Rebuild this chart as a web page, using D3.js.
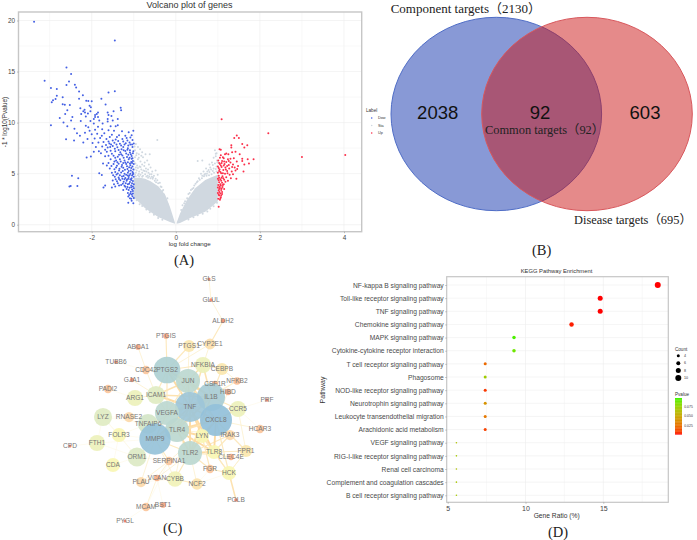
<!DOCTYPE html>
<html>
<head>
<meta charset="utf-8">
<script src="https://cdn.jsdelivr.net/npm/d3@7"></script>
<style>
body { margin: 0; background: #fff; }
svg { display: block; }
text { font-family: "Liberation Sans", Arial, sans-serif; }
.serif { font-family: "Liberation Serif", "Noto Sans CJK SC", serif; fill: #222; }
</style>
</head>
<body>
<div id="chart"></div>
<script>
// (A) volcano: significant genes, [log fold change, -log10 p]
const downGenes = [
[-3.37,19.87],[-1.45,18.04],[-2.6,15.4],[-2.49,14.77],[-3.12,14.09],[-2.54,14.02],[-2.4,13.7],[-2.6,13.68],[-2.37,13.43],[-2.97,13.4],
[-2.83,13.3],[-2.3,13.04],[-1.45,13.07],[-1.6,12.95],[-2.21,12.69],[-2.83,12.62],[-2.69,12.49],[-2.86,12.3],[-2.92,12.2],[-2.3,12.33],
[-1.77,12.33],[-2.13,12.13],[-2.08,12.11],[-2.95,12],[-2,12.08],[-2.69,11.8],[-2.64,11.75],[-2.52,11.72],[-1.67,11.77],[-2.05,11.65],
[-2.02,11.5],[-1.31,11.45],[-2.27,11.4],[-1.3,11.2],[-2.58,11.2],[-2.17,11.25],[-2.2,11.1],[-1.48,11.1],[-2.03,11.1],[-2.63,10.85],
[-2.16,11],[-1.62,11],[-1.85,11],[-2.09,10.9],[-2.25,10.85],[-1.88,10.85],[-1.92,10.75],[-1.6,10.75],[-1.53,10.65],[-2.14,10.6],
[-1.92,10.55],[-1.85,10.55],[-2.76,10.45],[-2.46,10.55],[-1.95,10.35],[-1.62,10.35],[-1.38,10.35],[-1.5,10.2],[-1.82,10.2],[-2.67,10],
[-2.49,10.2],[-2.26,10.15],[-2.03,10.15],[-1.62,10.1],[-1.95,9.9],[-1.74,9.9],[-2.97,9.75],[-2.58,9.65],[-2.14,9.7],[-2.08,9.55],
[-1.85,9.6],[-1.55,9.65],[-1.43,9.65],[-1.38,9.75],[-2.41,9.4],[-1.01,9.2],[-2.61,8.37],[-2.42,8.24],[-2.28,8.7],[-2.16,9],
[-2.35,8.95],[-2.05,9.2],[-1.92,9.3],[-1.75,9.35],[-1.6,9.25],[-1.47,9.2],[-1.28,9.15],[-1.12,9.05],[-2.0,8.85],[-1.87,8.9],
[-1.7,8.95],[-1.52,8.8],[-1.35,8.75],[-1.2,8.7],[-1.08,8.55],[-2.1,8.4],[-1.93,8.45],[-1.8,8.5],[-1.65,8.4],[-1.43,8.35],
[-1.27,8.4],[-1.15,8.25],[-1.03,8.3],[-2.2,8.05],[-1.98,8],[-1.84,8.05],[-1.72,8.1],[-1.58,7.95],[-1.46,8.02],[-1.33,7.92],
[-1.19,7.98],[-1.08,7.85],[-1.0,7.95],[-1.9,7.6],[-1.75,7.65],[-1.62,7.55],[-1.5,7.7],[-1.39,7.58],[-1.25,7.62],[-1.14,7.5],
[-1.03,7.6],[-1.95,7.15],[-1.83,7.2],[-1.78,7],[-1.64,7.15],[-1.55,7.25],[-1.44,7.2],[-1.32,7.1],[-1.2,7.22],[-1.09,7.08],
[-1.01,7.2],[-2.12,6.57],[-2.02,6.67],[-1.68,6.7],[-1.48,6.75],[-1.38,6.65],[-1.27,6.78],[-1.16,6.62],[-1.05,6.72],[-1.55,6.4],
[-1.42,6.3],[-1.33,6.42],[-1.22,6.28],[-1.12,6.4],[-1.02,6.25],[-1.73,6],[-1.48,5.95],[-1.36,5.98],[-1.28,5.85],[-1.18,5.95],
[-1.08,5.82],[-1.0,5.95],[-1.57,5.5],[-1.42,5.6],[-1.34,5.48],[-1.25,5.58],[-1.15,5.45],[-1.06,5.55],[-1.01,5.4],[-1.82,5.04],
[-1.76,4.87],[-1.52,5.1],[-1.44,5.15],[-1.38,5.02],[-1.3,5.12],[-1.22,5],[-1.14,5.1],[-1.08,4.98],[-1.01,5.05],[-2.47,4.8],
[-2.32,4.55],[-1.45,4.7],[-1.36,4.62],[-1.28,4.72],[-1.2,4.58],[-1.12,4.68],[-1.05,4.55],[-1.0,4.7],[-1.5,4.32],[-1.4,4.25],
[-1.32,4.35],[-1.24,4.2],[-1.17,4.3],[-1.09,4.18],[-1.02,4.28],[-2.5,3.79],[-2.53,3.75],[-2.34,3.8],[-1.72,3.64],[-1.68,3.85],
[-1.52,3.64],[-1.44,3.73],[-1.38,4.05],[-1.3,3.9],[-1.22,3.82],[-1.14,3.95],[-1.06,3.85],[-1.0,3.95],[-1.25,3.4],[-1.17,3.5],
[-1.1,3.62],[-1.04,3.45],[-1.0,3.58],[-1.14,3.1],[-1.07,3.22],[-1.02,3.05],[-1.13,2.75],[-1.09,2.6],[-1.03,2.78],[-1.0,2.62],
[-1.13,2.16],[-1.05,2.35],[-1.01,2.1],[-1.02,4.95],[-1.04,6.05],[-1.1,4.85],[-1.16,4.42],[-1.26,5.25],[-1.35,5.3],[-1.2,6.1],
[-1.1,6.55],[-1.3,6.9],[-1.05,6.45],[-1.15,7.35],[-1.24,7.3],[-1.02,3.3],[-1.08,4.45],[-1.03,5.7],[-1.12,5.25],[-1.19,4.05],
[-1.03,5.15],[-1.07,5.3],[-1.11,5.62],[-1.16,5.72],[-1.21,5.38],[-1.29,5.68],[-1.4,5.78],[-1.46,5.42],[-1.53,5.75],[-1.04,4.82],
[-1.14,4.82],[-1.18,4.9],[-1.24,4.78],[-1.33,4.85],[-1.41,4.92],[-1.49,4.85],[-1.06,4.38],[-1.13,4.5],[-1.22,4.45],[-1.27,4.5],
[-1.35,4.48],[-1.43,4.45],[-1.04,4.05],[-1.11,4.02],[-1.2,3.72],[-1.26,4.0],[-1.35,3.85],[-1.47,3.95],[-1.06,3.68],[-1.12,3.4],
[-1.02,3.75],[-1.15,3.7],[-1.08,3.05],[-1.05,2.95],[-1.11,2.9],[-1.06,2.55],[-1.03,6.5],[-1.06,6.15],[-1.09,6.0],[-1.14,6.12],
[-1.25,6.05],[-1.31,6.18],[-1.39,6.12],[-1.46,6.2],[-1.6,6.05],[-1.64,5.8],[-1.07,6.9],[-1.13,6.85],[-1.18,6.98],[-1.24,6.55],
[-1.35,6.85],[-1.44,6.55],[-1.52,6.95],[-1.6,6.75],[-1.02,7.0],[-1.09,7.3],[-1.29,7.4],[-1.36,7.32],[-1.45,7.45],[-1.56,7.6],
[-1.68,7.35],[-1.04,7.85],[-1.13,7.75],[-1.22,7.85],[-1.3,7.75],[-1.41,7.85],[-1.54,7.85],[-1.66,7.8],[-1.1,8.05],[-1.25,8.15],
[-1.37,8.2],[-1.5,8.25],[-1.6,8.15],[-1.05,8.75],[-1.17,8.5],[-1.4,8.6],[-1.57,8.6],[-1.76,8.7]
];
const upGenes = [
[1.09,10.33],[2.2,8.96],[3.0,6.64],[4.03,6.83],[1.45,8.73],[1.39,8.5],[1.5,8.5],[1.58,7.9],[1.7,7.78],[1.32,7.78],
[1.32,7.55],[1.63,7.55],[1.04,7.4],[1.07,7.33],[1.52,6.89],[1.42,7.15],[1.2,6.97],[1.17,6.9],[1.07,6.8],[1.71,6.4],
[1.85,6.4],[1.58,6.45],[1.58,6.25],[1.74,6],[1.63,5.9],[1.61,5.2],[1.44,4.5],[1.02,1.76],[1.38,6.5],[1.3,6.45],
[1.24,6.4],[1.14,6.5],[1.05,6.55],[1.01,6.3],[1.1,6.25],[1.2,6.15],[1.3,6.1],[1.45,6.2],[1.36,5.9],[1.26,5.85],
[1.16,5.95],[1.05,5.95],[1.0,5.7],[1.09,5.65],[1.18,5.6],[1.27,5.5],[1.4,5.6],[1.48,5.75],[1.04,5.4],[1.13,5.35],
[1.22,5.25],[1.33,5.2],[1.42,5.3],[1.0,5.1],[1.08,5.05],[1.17,5],[1.28,4.9],[1.36,4.95],[1.02,4.8],[1.11,4.75],
[1.2,4.65],[1.31,4.55],[1.0,4.5],[1.06,4.45],[1.15,4.4],[1.24,4.3],[1.03,4.15],[1.1,4.1],[1.18,4.2],[1.01,3.9],
[1.07,3.85],[1.14,3.95],[1.0,3.65],[1.05,3.6],[1.11,3.7],[1.02,3.35],[1.08,3.4],[1.15,3.5],[1.0,3.1],[1.06,3.05],
[1.1,3.2],[1.03,2.85],[1.07,2.7],[1.01,2.55],[1.05,2.45],[1.12,6.6],[1.25,6.9],[1.34,7.1],[1.23,5.05],[1.04,3.75],[1.09,4.6],[1.19,5.4],
[1.03,5.25],[1.06,5.15],[1.12,5.05],[1.03,4.6],[1.08,4.3],[1.13,4.55],[1.02,4.35],[1.06,3.95],[1.12,3.9],[1.03,3.5],
[1.09,3.55],[1.04,3.2],[1.1,3.0],[1.02,2.95],[1.08,2.85],[1.06,2.6],[1.02,5.55],[1.07,5.8],[1.14,5.8],[1.22,5.75],
[1.03,6.05],[1.09,6.05],[1.15,6.2],[1.26,6.25],[1.34,5.65],[1.46,5.45]
];
const sparseGenes = [
[-0.95,7.9],[-0.9,7.6],[-0.97,7.3],[-0.93,7],[-0.88,6.9],[-0.85,7.4],[-0.8,7.1],[-0.97,6.6],[-0.9,6.4],[-0.84,6.2],
[-0.78,6.6],[-0.72,6.9],[-0.96,6],[-0.92,5.8],[-0.86,5.7],[-0.8,5.9],[-0.74,6.1],[-0.68,6.3],[-0.64,5.9],[-0.98,5.4],
[-0.93,5.3],[-0.87,5.2],[-0.82,5.4],[-0.77,5.3],[-0.71,5.5],[-0.66,5.4],[-0.6,5.6],[-0.56,5.2],[-0.97,4.9],[-0.9,4.85],
[-0.84,4.9],[-0.78,4.8],[-0.73,4.95],[-0.67,4.8],[-0.62,4.95],[-0.57,4.7],[-0.52,4.8],[-0.48,4.5],[-0.44,4.35],[-0.5,4.3],
[-0.55,4.5],[-0.6,4.55],[-0.66,4.6],[-0.38,4.1],[-0.34,3.7],[-0.3,3.4],[-0.44,8.3],[-0.62,6.9],[-0.48,5.3],[-0.43,4.9],
[-0.2,2.6],[0.52,6.25],[0.63,6.3],[0.93,7.3],[0.97,7],[0.95,6.7],[0.9,6.55],[0.98,6.3],[0.93,6],[0.86,6.1],
[0.8,5.9],[0.97,5.7],[0.9,5.5],[0.84,5.4],[0.78,5.35],[0.72,5.5],[0.66,5.2],[0.6,5],[0.97,5.2],[0.91,5.1],
[0.85,4.95],[0.79,4.85],[0.73,4.8],[0.67,4.75],[0.62,4.55],[0.57,4.4],[0.52,4.25],[0.47,4],[0.42,3.6],[0.36,3.4],
[0.3,3],[0.22,2.3],[0.16,1.9],
[-0.98,7.65],[-0.94,6.8],[-0.99,6.2],[-0.88,6.55],[-0.82,6.75],[-0.95,5.6],[-0.9,5.55],[-0.84,5.65],[-0.75,5.75],[-0.7,5.2],
[-0.95,5.1],[-0.88,5.0],[-0.8,5.1],[-0.74,5.25],[-0.65,5.1],[-0.58,4.95],[-0.95,4.75],[-0.87,4.72],[-0.8,4.7],[-0.7,4.72],
[-0.63,4.72],[-0.54,4.65],[-0.47,4.15],[-0.42,4.05],[-0.36,3.75],[-0.32,3.3],[-0.28,2.95],[-0.23,2.4],[-0.2,2.05],[-0.17,1.65],
[-0.99,2.6],[-0.93,2.4],[-0.86,2.0],[-0.8,1.82],[-0.7,1.5],[-0.62,1.22],[-0.52,0.98],[-0.42,0.66],[-0.32,0.48],
[0.95,6.95],[0.99,6.1],[0.88,5.85],[0.82,5.6],[0.75,5.2],[0.7,5.0],[0.95,5.45],[0.88,5.25],[0.8,5.15],[0.74,5.0],
[0.68,4.9],[0.63,4.8],[0.55,4.55],[0.5,4.15],[0.44,3.85],[0.39,3.5],[0.33,3.1],[0.27,2.6],[0.2,2.1],[0.13,1.45],
[0.98,2.15],[0.9,1.8],[0.82,1.55],[0.75,1.3],[0.64,1.08],[0.52,0.92],[0.42,0.72],[0.3,0.5]
];
// grey cloud of non significant genes, given as its envelope per branch
const stableLeftLfc = [-1,-0.85,-0.73,-0.6,-0.41,-0.25,-0.14,-0.02];
const stableLeftLow = [2.7,2.1,1.6,1.25,0.72,0.45,0.27,0.1];
const stableLeftHigh = [4.6,4.6,4.5,4.25,3.73,2.9,1.76,0.2];
const stableRightLfc = [0.02,0.1,0.26,0.38,0.46,0.7,0.85,1];
const stableRightLow = [0.1,0.17,0.48,0.72,0.85,1.27,1.75,2.3];
const stableRightHigh = [0.2,1.1,2.4,3.1,3.57,4.38,4.65,4.9];
const volcanoLegend = ["Dow", "Sta", "Up"];

// (B) venn counts
const vennLabels = ["Component targets（2130）", "Common targets（92）", "Disease targets（695）"];
const vennCounts = [2038, 92, 603];

// (C) network: layout units from the original picture
const geneNames = ["GLS","GLUL","ALDH2","CYP2E1","PTGS1","PTGIS","ABCA1","TUBB6","CDC42","PTGS2","GJA1","PADI2","ARG1","ICAM1","JUN","NFKBIA","CEBPB","NFKB2","CSF1R","HIBD","PRF","CCR5","IL1B","TNF","CXCL8","LYZ","RNASE2","VEGFA","TNFAIP6","TLR4","MMP9","LYN","IRAK3","HCAR3","FOLR3","FTH1","CPD","ORM1","TLR2","TLR8","FPR1","CLEC4E","CDA","SERPINA1","FGR","HCK","PLAU","VCAN","CYBB","NCF2","POLB","MCAM","BST1","PYGL"];
const geneX = [139,141,153,140,119,96,68,46,76,97,62,38,65,86,118,133,152,167,145,158,197,168,141,120,146,33,59,97,78,107,85,132,160,190,49,27,0,67,120,144,176,161,43,99,140,159,71,87,105,127,166,76,93,55];
const geneY = [1,22,43,66,68,58,69,84,92,92,102,111,120,117,103,87,91,103,106,114,122,131,119,129,142,139,139,135,146,152,161,158,157,151,157,165,168,179,175,174,173,179,187,183,191,195,204,200,201,206,222,229,227,243];
const geneDegree = [1,2,3,13,15,5,5,2,9,37,3,9,21,24,33,21,15,8,6,6,2,21,39,42,45,24,12,33,27,33,44,18,12,9,18,21,1,25,33,18,15,6,18,9,9,18,12,6,20,14,2,9,5,1];
const geneLinks = [
["GLS","GLUL",2],["GLUL","ALDH2",2],["ALDH2","CYP2E1",3],["CYP2E1","PTGS1",2],["CYP2E1","PTGS2",2],["PTGS1","PTGS2",3],["PTGS1","JUN",2],["CYP2E1","NFKBIA",2],["PTGIS","PTGS2",3],["ABCA1","CDC42",2],
["TUBB6","CDC42",1],["CDC42","PTGS2",2],["GJA1","ICAM1",2],["CDC42","ICAM1",2],["PADI2","ARG1",1],["ARG1","ICAM1",2],["ICAM1","PTGS2",3],["ICAM1","JUN",4],["ICAM1","TNF",5],["ICAM1","IL1B",4],
["ICAM1","VEGFA",3],["PTGS2","JUN",4],["PTGS2","TNF",5],["PTGS2","IL1B",5],["PTGS2","CXCL8",3],["PTGS2","VEGFA",3],["PTGS2","NFKBIA",3],["JUN","TNF",5],["JUN","IL1B",5],["JUN","NFKBIA",4],
["JUN","CXCL8",4],["JUN","VEGFA",3],["JUN","TLR4",3],["NFKBIA","CEBPB",3],["NFKBIA","IL1B",4],["NFKBIA","TNF",4],["CEBPB","IL1B",3],["CEBPB","NFKB2",2],["NFKB2","IL1B",2],["NFKB2","TNF",2],
["CSF1R","IL1B",3],["HIBD","CXCL8",2],["HIBD","IL1B",2],["CCR5","IL1B",3],["CCR5","CXCL8",4],["CCR5","TNF",2],["CCR5","FPR1",2],["CCR5","HCAR3",1],["CCR5","PRF",1],["CXCL8","HCAR3",2],
["CXCL8","IRAK3",3],["IRAK3","TLR4",2],["IRAK3","TLR8",3],["IRAK3","TLR2",3],["FPR1","TLR8",3],["FPR1","CXCL8",3],["FPR1","HCK",2],["CLEC4E","TLR2",2],["TLR8","TNF",5],["TLR8","TLR2",5],
["TLR8","TLR4",5],["TLR8","CXCL8",5],["TLR8","LYN",4],["LYN","TLR2",5],["LYN","TLR4",5],["LYN","CXCL8",5],["LYN","TNF",5],["TLR2","TLR4",5],["TLR2","MMP9",3],["TLR2","CXCL8",5],
["TLR2","TNF",5],["TLR2","IL1B",5],["TLR4","TNF",5],["TLR4","IL1B",5],["TLR4","CXCL8",5],["TLR4","MMP9",4],["TNF","CXCL8",5],["TNF","IL1B",5],["TNF","MMP9",5],["MMP9","CXCL8",4],
["MMP9","IL1B",4],["MMP9","VEGFA",4],["VEGFA","TNF",5],["VEGFA","IL1B",4],["VEGFA","CXCL8",4],["TNFAIP6","TNF",3],["TNFAIP6","MMP9",2],["TNFAIP6","FOLR3",1],["TNFAIP6","LYZ",1],["RNASE2","LYZ",1],
["RNASE2","MMP9",1],["LYZ","ORM1",1],["LYZ","FOLR3",1],["LYZ","FTH1",1],["FOLR3","ORM1",1],["FOLR3","MMP9",1],["FTH1","CPD",1],["FTH1","ORM1",1],["FTH1","MMP9",1],["ORM1","MMP9",2],
["ORM1","CDA",1],["ORM1","TLR4",1],["ORM1","SERPINA1",1],["CDA","FOLR3",1],["SERPINA1","MMP9",3],["SERPINA1","TLR2",2],["SERPINA1","CXCL8",2],["SERPINA1","PLAU",2],["SERPINA1","VCAN",2],["PLAU","VCAN",2],
["PLAU","MMP9",2],["PLAU","CYBB",1],["VCAN","CYBB",2],["VCAN","TLR2",2],["CYBB","NCF2",3],["CYBB","TLR2",3],["CYBB","TNF",2],["CYBB","MMP9",2],["NCF2","TLR2",2],["NCF2","FGR",1],
["NCF2","HCK",1],["FGR","HCK",3],["FGR","TLR2",3],["FGR","LYN",3],["HCK","LYN",3],["HCK","POLB",4],["HCK","TLR8",3],["HCK","CXCL8",3],["HCK","FPR1",2],["MCAM","BST1",1],
["MCAM","PYGL",1],["MCAM","SERPINA1",1],["MCAM","VCAN",2],["BST1","VCAN",1]
];

// (D) KEGG enrichment
const pathways = ["NF-kappa B signaling pathway","Toll-like receptor signaling pathway","TNF signaling pathway","Chemokine signaling pathway","MAPK signaling pathway","Cytokine-cytokine receptor interaction","T cell receptor signaling pathway","Phagosome","NOD-like receptor signaling pathway","Neurotrophin signaling pathway","Leukocyte transendothelial migration","Arachidonic acid metabolism","VEGF signaling pathway","RIG-I-like receptor signaling pathway","Renal cell carcinoma","Complement and coagulation cascades","B cell receptor signaling pathway"];
const geneRatio = [18.5,14.8,14.8,12.96,9.26,9.26,7.41,7.41,7.41,7.41,7.41,7.41,5.56,5.56,5.56,5.56,5.56];
const geneCount = [10,8,8,7,5,5,4,4,4,4,4,4,3,3,3,3,3];
const pvalue = [0.001,0.001,0.002,0.004,0.095,0.088,0.022,0.072,0.008,0.04,0.028,0.01,0.065,0.07,0.065,0.068,0.07];
const countLegend = [4,6,8,10];
const pvalueLegend = [0.025,0.05,0.075];

const svg = d3.select("#chart").append("svg").attr("width", 697).attr("height", 540);

function drawVolcano() {
    const g = svg.append("g");
    const frame = { left: 18.5, right: 361.7, top: 12, bottom: 231.7 };
    const x = d3.scaleLinear().domain([-2, 4]).range([91.7, 344]);
    const y = d3.scaleLinear().domain([0, 20]).range([224.7, 20.5]);

    g.selectAll(".vg").data([-3, -2, -1, 0, 1, 2, 3, 4]).enter().append("line")
        .attr("x1", d => x(d)).attr("x2", d => x(d)).attr("y1", frame.top).attr("y2", frame.bottom)
        .attr("stroke", d => d % 2 == 0 ? "#ececec" : "#f4f4f4").attr("stroke-width", 0.6);
    g.selectAll(".hg").data(d3.range(0, 20.1, 2.5)).enter().append("line")
        .attr("y1", d => y(d)).attr("y2", d => y(d)).attr("x1", frame.left).attr("x2", frame.right)
        .attr("stroke", d => d % 5 == 0 ? "#ececec" : "#f4f4f4").attr("stroke-width", 0.6);

    const cloud = d3.area().x(d => x(d[0])).y0(d => y(d[1])).y1(d => y(d[2]));
    g.append("path").attr("fill", "#d0d8e0")
        .attr("d", cloud(stableLeftLfc.map((v, i) => [v, stableLeftLow[i], stableLeftHigh[i]])));
    g.append("path").attr("fill", "#d0d8e0")
        .attr("d", cloud(stableRightLfc.map((v, i) => [v, stableRightLow[i], stableRightHigh[i]])));

    g.selectAll(".sg").data(sparseGenes).enter().append("circle")
        .attr("cx", d => x(d[0])).attr("cy", d => y(d[1])).attr("r", 1).attr("fill", "#d0d8e0");
    g.selectAll(".dg").data(downGenes).enter().append("circle")
        .attr("cx", d => x(d[0])).attr("cy", d => y(d[1])).attr("r", 1).attr("fill", "#4460e4");
    g.selectAll(".ug").data(upGenes).enter().append("circle")
        .attr("cx", d => x(d[0])).attr("cy", d => y(d[1])).attr("r", 1).attr("fill", "#fb2f4a");

    g.append("rect").attr("x", frame.left).attr("y", frame.top)
        .attr("width", frame.right - frame.left).attr("height", frame.bottom - frame.top)
        .attr("fill", "none").attr("stroke", "#c6c6c6").attr("stroke-width", 1.4);

    const xAxis = g.append("g").attr("transform", `translate(0,${frame.bottom})`)
        .call(d3.axisBottom(x).tickValues([-2, 0, 2, 4]).tickFormat(d => String(d)).tickSize(1.5).tickPadding(2.5));
    const yAxis = g.append("g").attr("transform", `translate(${frame.left},0)`)
        .call(d3.axisLeft(y).tickValues([0, 5, 10, 15, 20]).tickSize(1.5).tickPadding(2));
    [xAxis, yAxis].forEach(a => {
        a.select(".domain").remove();
        a.selectAll("line").attr("stroke", "#888").attr("stroke-width", 0.5);
        a.selectAll("text").attr("font-size", 6.4).attr("fill", "#444");
    });

    g.append("text").attr("x", 189.5).attr("y", 8).attr("text-anchor", "middle")
        .attr("font-size", 9).attr("fill", "#333").text("Volcano plot of genes");
    g.append("text").attr("x", 189.7).attr("y", 246).attr("text-anchor", "middle")
        .attr("font-size", 6.2).attr("fill", "#333").text("log fold change");
    g.append("text").attr("transform", "translate(6.5,122) rotate(-90)").attr("text-anchor", "middle")
        .attr("font-size", 6.3).attr("fill", "#333").text("-1 * log10(Pvalue)");

    g.append("text").attr("x", 366).attr("y", 112).attr("font-size", 4.6).attr("fill", "#333").text("Label");
    const legendColor = ["#4460e4", "#d0d8e0", "#fb2f4a"];
    const legendY = d3.scalePoint().domain(volcanoLegend).range([118, 133]);
    volcanoLegend.forEach((d, i) => {
        g.append("circle").attr("cx", 371.7).attr("cy", legendY(d)).attr("r", 0.8).attr("fill", legendColor[i]);
        g.append("text").attr("x", 378).attr("y", legendY(d) + 1.4).attr("font-size", 3.8).attr("fill", "#333").text(d);
    });
    g.append("text").attr("class", "serif").attr("x", 184).attr("y", 265).attr("text-anchor", "middle")
        .attr("font-size", 14.5).text("(A)");
}

function drawVenn() {
    const g = svg.append("g");
    const ellipses = [
        { cx: 496.3, fill: "rgba(38,69,180,0.55)", stroke: "#4f6dc6" },
        { cx: 587, fill: "rgba(202,16,16,0.49)", stroke: "#d8575c" }
    ];
    g.selectAll("ellipse").data(ellipses).enter().append("ellipse")
        .attr("cx", d => d.cx).attr("cy", 114).attr("rx", 105.3).attr("ry", 96.7)
        .attr("fill", d => d.fill).attr("stroke", d => d.stroke).attr("stroke-width", 1);

    const countX = [437.7, 540, 645];
    vennCounts.forEach((d, i) => {
        g.append("text").attr("x", countX[i]).attr("y", 118.5).attr("text-anchor", "middle")
            .attr("font-size", 18.5).attr("fill", "#111").text(d);
    });
    const labelX = [390.7, 485, 574];
    const labelY = [12.7, 133.5, 224];
    const labelSize = [13, 12.4, 12.4];
    vennLabels.forEach((d, i) => {
        g.append("text").attr("class", "serif").attr("x", labelX[i]).attr("y", labelY[i])
            .attr("font-size", labelSize[i]).text(d);
    });
    g.append("text").attr("class", "serif").attr("x", 541.7).attr("y", 255).attr("text-anchor", "middle")
        .attr("font-size", 14.5).text("(B)");
}

function drawNetwork() {
    const g = svg.append("g");
    const x = d3.scaleLinear().domain([0, 200]).range([70, 270]);
    const y = d3.scaleLinear().domain([0, 250]).range([278, 528]);
    const r = d3.scaleLinear().domain([1, 45]).range([1.5, 16]);
    const fill = d3.scaleLinear()
        .domain([1, 6, 11, 18, 24, 33, 45])
        .range(["#f0795e", "#f8b088", "#fdd4a8", "#f9f6b4", "#e0ebc2", "#bcd8d0", "#93c0da"]);
    const width = d3.scaleLinear().domain([1, 5]).range([0.4, 1.9]);
    const edge = d3.scaleLinear().domain([1, 5]).range(["#fcf6d8", "#fddba3"]);

    const nodes = geneNames.map((name, i) => ({ name: name, x: geneX[i], y: geneY[i], degree: geneDegree[i] }));
    const byName = new Map(nodes.map(d => [d.name, d]));

    g.selectAll("line").data(geneLinks).enter().append("line")
        .attr("x1", d => x(byName.get(d[0]).x)).attr("y1", d => y(byName.get(d[0]).y))
        .attr("x2", d => x(byName.get(d[1]).x)).attr("y2", d => y(byName.get(d[1]).y))
        .attr("stroke", d => edge(d[2])).attr("stroke-width", d => width(d[2]));

    g.selectAll("circle").data(nodes).enter().append("circle")
        .attr("cx", d => x(d.x)).attr("cy", d => y(d.y)).attr("r", d => r(d.degree))
        .attr("fill", d => fill(d.degree)).attr("fill-opacity", 0.92);

    g.selectAll("text").data(nodes).enter().append("text")
        .attr("x", d => x(d.x)).attr("y", d => y(d.y) + 2.3).attr("text-anchor", "middle")
        .attr("font-size", 6.6).attr("fill", "#777").text(d => d.name);

    svg.append("text").attr("class", "serif").attr("x", 172.7).attr("y", 532.7).attr("text-anchor", "middle")
        .attr("font-size", 14.5).text("(C)");
}

function drawKegg() {
    const g = svg.append("g");
    const frame = { left: 446.7, right: 668.3, top: 276.7, bottom: 502.3 };
    const x = d3.scaleLinear().domain([5, 15]).range([447.7, 603.3]);
    const y = d3.scalePoint().domain(pathways).range([285, 495.3]);
    const size = d3.scaleLinear().domain([3, 4, 10]).range([0.8, 1.5, 3]);
    const color = d3.scaleLinear().domain([0.002, 0.098]).range(["#ff0000", "#33f500"]).interpolate(d3.interpolateLab);

    g.selectAll(".vg").data([7.5, 10, 12.5, 15, 17.5]).enter().append("line")
        .attr("x1", d => x(d)).attr("x2", d => x(d)).attr("y1", frame.top).attr("y2", frame.bottom)
        .attr("stroke", d => d % 5 == 0 ? "#ececec" : "#f4f4f4").attr("stroke-width", 0.6);
    g.selectAll(".hg").data(pathways).enter().append("line")
        .attr("y1", d => y(d)).attr("y2", d => y(d)).attr("x1", frame.left).attr("x2", frame.right)
        .attr("stroke", "#efefef").attr("stroke-width", 0.6);

    g.selectAll(".dot").data(pathways).enter().append("circle")
        .attr("cx", (d, i) => x(geneRatio[i])).attr("cy", d => y(d))
        .attr("r", (d, i) => size(geneCount[i])).attr("fill", (d, i) => color(pvalue[i]));

    g.append("rect").attr("x", frame.left).attr("y", frame.top)
        .attr("width", frame.right - frame.left).attr("height", frame.bottom - frame.top)
        .attr("fill", "none").attr("stroke", "#c6c6c6").attr("stroke-width", 1.2);

    const yAxis = g.append("g").attr("transform", `translate(${frame.left},0)`)
        .call(d3.axisLeft(y).tickSize(1.5).tickPadding(1.5));
    const xAxis = g.append("g").attr("transform", `translate(0,${frame.bottom})`)
        .call(d3.axisBottom(x).tickValues([5, 10, 15]).tickSize(1.5).tickPadding(2.5));
    [xAxis, yAxis].forEach(a => {
        a.select(".domain").remove();
        a.selectAll("line").attr("stroke", "#888").attr("stroke-width", 0.5);
    });
    yAxis.selectAll("text").attr("font-size", 6.7).attr("fill", "#4a4a4a");
    xAxis.selectAll("text").attr("font-size", 7).attr("fill", "#444");

    g.append("text").attr("x", 556.5).attr("y", 273).attr("text-anchor", "middle")
        .attr("font-size", 5.8).attr("fill", "#333").text("KEGG Pathway Enrichment");
    g.append("text").attr("x", 556.7).attr("y", 517.5).attr("text-anchor", "middle")
        .attr("font-size", 6.7).attr("fill", "#333").text("Gene Ratio (%)");
    g.append("text").attr("transform", "translate(325,390) rotate(-90)").attr("text-anchor", "middle")
        .attr("font-size", 7).attr("fill", "#333").text("Pathway");

    // legends
    g.append("text").attr("x", 675).attr("y", 350.5).attr("font-size", 4.6).attr("fill", "#333").text("Count");
    const countY = d3.scalePoint().domain(countLegend).range([355.7, 378]);
    countLegend.forEach(d => {
        g.append("circle").attr("cx", 678.3).attr("cy", countY(d)).attr("r", size(d)).attr("fill", "#000");
        g.append("text").attr("x", 684).attr("y", countY(d) + 1.3).attr("font-size", 3.6).attr("fill", "#333").text(d);
    });
    g.append("text").attr("x", 675).attr("y", 395.5).attr("font-size", 4.6).attr("fill", "#333").text("Pvalue");

    const barY = d3.scaleLinear().domain([0.002, 0.098]).range([434.3, 398]);
    const steps = d3.range(0.002, 0.098, 0.002);
    g.selectAll(".bar").data(steps).enter().append("rect")
        .attr("x", 675).attr("width", 7).attr("y", d => barY(d + 0.002)).attr("height", d => barY(d) - barY(d + 0.002) + 0.3)
        .attr("fill", d => color(d));
    pvalueLegend.forEach(d => {
        g.append("text").attr("x", 684.3).attr("y", barY(d) + 1.2).attr("font-size", 3.4).attr("fill", "#333").text(d3.format(".3f")(d));
    });

    g.append("text").attr("class", "serif").attr("x", 558).attr("y", 537).attr("text-anchor", "middle")
        .attr("font-size", 14.5).text("(D)");
}

drawVolcano();
drawVenn();
drawNetwork();
drawKegg();
</script>
</body>
</html>
